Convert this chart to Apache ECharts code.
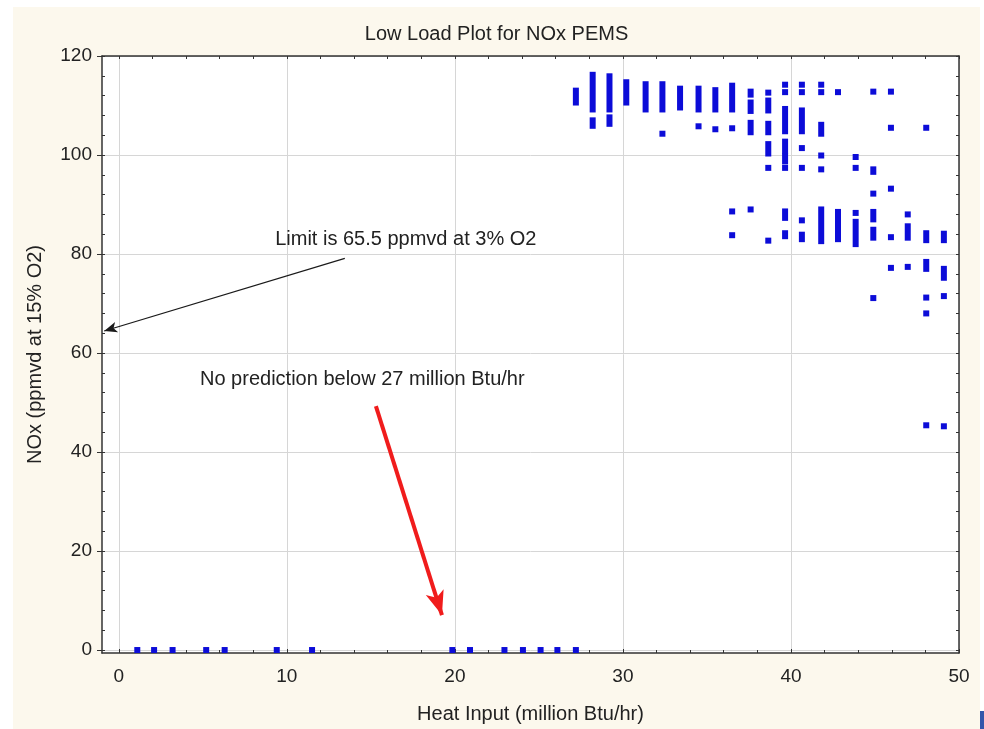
<!DOCTYPE html>
<html>
<head>
<meta charset="utf-8">
<script src="https://cdn.jsdelivr.net/npm/echarts@6/dist/echarts.min.js"></script>
<style>
    html, body { margin: 0; padding: 0; background: #fff; }
    #chart { position: absolute; left: 13px; top: 7px; width: 967px; height: 722px; background: #fcf8ed; }
    #tab { position: absolute; left: 980px; top: 711px; width: 4px; height: 18px; background: #3355aa; }
</style>
</head>
<body>
<div id="chart"></div>
<div id="tab"></div>
<script>
// runs of points: [heat input, lowest NOx, highest NOx]
var upperBand = [
    [27.2, 110.6, 113.0], [28.2, 109.2, 116.2], [28.2, 105.9, 107.0],
    [29.2, 109.2, 115.9], [29.2, 106.3, 107.6], [30.2, 110.6, 114.7],
    [31.35, 109.2, 114.3], [32.35, 109.2, 114.3], [32.35, 104.3, 104.3],
    [33.4, 109.6, 113.4], [34.5, 109.2, 113.4], [34.5, 105.8, 105.8],
    [35.5, 109.2, 113.1], [35.5, 105.2, 105.2], [36.5, 109.2, 114.0],
    [36.5, 105.4, 105.4], [37.6, 112.2, 112.8], [37.6, 108.9, 110.6],
    [37.6, 104.6, 106.5], [38.65, 112.6, 112.6], [38.65, 109.0, 111.0],
    [38.65, 104.6, 106.3], [38.65, 100.3, 102.2], [38.65, 97.4, 97.4],
    [39.65, 114.2, 114.2], [39.65, 112.7, 112.7], [39.65, 104.8, 109.3],
    [39.65, 100.9, 102.7], [39.65, 98.7, 99.8], [39.65, 97.4, 97.4],
    [40.65, 114.2, 114.2], [40.65, 112.7, 112.7], [40.65, 104.8, 109.0],
    [40.65, 101.4, 101.4], [40.65, 97.4, 97.4], [41.8, 114.2, 114.2],
    [41.8, 112.7, 112.7], [41.8, 104.3, 106.1], [41.8, 99.9, 99.9],
    [41.8, 97.1, 97.1], [42.8, 112.7, 112.7], [43.85, 99.6, 99.6],
    [43.85, 97.4, 97.4], [44.9, 112.8, 112.8], [44.9, 96.6, 97.1],
    [45.95, 112.8, 112.8], [45.95, 105.5, 105.5], [48.05, 105.5, 105.5]
];
var middleBand = [
    [44.9, 92.2, 92.2], [45.95, 93.2, 93.2], [36.5, 88.6, 88.6],
    [36.5, 83.8, 83.8], [37.6, 89.0, 89.0], [38.65, 82.7, 82.7],
    [39.65, 87.3, 88.6], [39.65, 83.6, 84.2], [40.65, 86.8, 86.8],
    [40.65, 83.0, 83.9], [41.8, 82.6, 89.0], [42.8, 83.0, 88.5],
    [43.85, 88.3, 88.3], [43.85, 82.0, 86.5], [44.9, 87.0, 88.5],
    [44.9, 83.3, 84.9], [45.95, 83.4, 83.4], [46.95, 88.0, 88.0],
    [46.95, 83.3, 85.6], [48.05, 82.8, 84.2], [49.1, 82.8, 84.1]
];
var lowerBand = [
    [45.95, 77.2, 77.2], [46.95, 77.4, 77.4], [48.05, 77.0, 78.4],
    [49.1, 75.2, 77.0], [44.9, 71.1, 71.1], [48.05, 71.2, 71.2],
    [49.1, 71.5, 71.5], [48.05, 68.0, 68.0], [48.05, 45.4, 45.4],
    [49.1, 45.2, 45.2]
];
// points with no prediction (NOx = 0)
var zeroX = [1.1, 2.1, 3.2, 5.2, 6.3, 9.4, 11.5, 19.85, 20.9, 22.95, 24.05, 25.1, 26.1, 27.2];

var xMajor = [0, 10, 20, 30, 40, 50];
var xMinor = [0, 2, 4, 6, 8, 10, 12, 14, 16, 18, 20, 22, 24, 26, 28, 30, 32, 34, 36, 38, 40, 42, 44, 46, 48, 50];
var yMajor = [0, 20, 40, 60, 80, 100, 120];
var yMinor = [0, 4, 8, 12, 16, 20, 24, 28, 32, 36, 40, 44, 48, 52, 56, 60, 64, 68, 72, 76, 80, 84, 88, 92, 96, 100, 104, 108, 112, 116, 120];

var notes = [
    {name: 'Limit is 65.5 ppmvd at 3% O2', coord: [17.08, 82.9]},
    {name: 'No prediction below 27 million Btu/hr', coord: [14.49, 54.75]}
];
var limitArrow = [[13.45, 79.13], [-0.87, 64.45]];
var cutoffArrow = [[15.30, 49.29], [19.23, 7.07]];

var blue = '#0c0cd8';
var ink = '#222';
var axisColor = '#333';

function renderRun(params, api) {
    var x = api.value(0);
    var top = api.coord([x, api.value(2)]);
    var bot = api.coord([x, api.value(1)]);
    return {
        type: 'rect',
        shape: {x: top[0] - 3, y: top[1] - 3, width: 6, height: bot[1] - top[1] + 6},
        style: {fill: blue}
    };
}

var myChart = echarts.init(document.getElementById('chart'));
var xBase = {type: 'value', min: -1, max: 50};
var yBase = {type: 'value', min: -0.6, max: 120};

var option = {
    animation: false,
    textStyle: {fontFamily: 'Liberation Sans, Arial, sans-serif'},
    title: {
        text: 'Low Load Plot for NOx PEMS',
        left: 'center',
        top: 17,
        padding: 0,
        textStyle: {fontSize: 20, fontWeight: 'normal', color: ink}
    },
    grid: {left: 89, top: 49, width: 857, height: 597, show: true, backgroundColor: '#fff', borderWidth: 0}
};

option.xAxis = [
    Object.assign({}, xBase, {
        position: 'bottom',
        name: 'Heat Input (million Btu/hr)',
        nameLocation: 'middle',
        nameGap: 51,
        nameTextStyle: {fontSize: 20, color: ink},
        axisLine: {show: true, onZero: false, lineStyle: {color: axisColor, width: 1.5}},
        axisTick: {show: true, inside: true, length: 4, customValues: xMajor, lineStyle: {color: axisColor}},
        axisLabel: {customValues: xMajor, fontSize: 19, color: ink, margin: 14},
        splitLine: {show: true, lineStyle: {color: '#d6d6d6', width: 1}}
    }),
    Object.assign({}, xBase, {
        position: 'bottom',
        axisLine: {show: false, onZero: false},
        axisTick: {show: true, inside: true, length: 3, customValues: xMinor, lineStyle: {color: axisColor}},
        axisLabel: {show: false},
        splitLine: {show: false}
    }),
    Object.assign({}, xBase, {
        position: 'top',
        axisLine: {show: true, onZero: false, lineStyle: {color: axisColor, width: 1.5}},
        axisTick: {show: true, inside: true, length: 3, customValues: xMinor, lineStyle: {color: axisColor}},
        axisLabel: {show: false},
        splitLine: {show: false}
    })
];

option.yAxis = [
    Object.assign({}, yBase, {
        position: 'left',
        name: 'NOx (ppmvd at 15% O2)',
        nameLocation: 'middle',
        nameGap: 57,
        nameTextStyle: {fontSize: 20, color: ink},
        axisLine: {show: true, onZero: false, lineStyle: {color: axisColor, width: 1.5}},
        axisTick: {show: true, inside: false, length: 5, customValues: yMajor, lineStyle: {color: axisColor}},
        axisLabel: {customValues: yMajor, fontSize: 19, color: ink, margin: 10},
        splitLine: {show: true, lineStyle: {color: '#d6d6d6', width: 1}}
    }),
    Object.assign({}, yBase, {
        position: 'left',
        axisLine: {show: false, onZero: false},
        axisTick: {show: true, inside: true, length: 3, customValues: yMinor, lineStyle: {color: axisColor}},
        axisLabel: {show: false},
        splitLine: {show: false}
    }),
    Object.assign({}, yBase, {
        position: 'right',
        axisLine: {show: true, onZero: false, lineStyle: {color: axisColor, width: 1.5}},
        axisTick: {show: true, inside: true, length: 3, customValues: yMinor, lineStyle: {color: axisColor}},
        axisLabel: {show: false},
        splitLine: {show: false}
    })
];

var runSeries = [upperBand, middleBand, lowerBand].map(function (band) {
    return {
        type: 'custom',
        renderItem: renderRun,
        data: band,
        encode: {x: 0, y: [1, 2]},
        clip: true,
        z: 3
    };
});

option.series = runSeries.concat([
    {
        type: 'scatter',
        symbol: 'rect',
        symbolSize: 6,
        itemStyle: {color: blue, opacity: 1},
        data: zeroX.map(function (x) { return [x, 0]; }),
        z: 3,
        markPoint: {
            silent: true,
            symbol: 'circle',
            symbolSize: 1,
            itemStyle: {color: 'rgba(0,0,0,0)'},
            label: {
                show: true,
                position: 'inside',
                fontSize: 20,
                color: ink,
                formatter: function (p) { return p.name; }
            },
            data: notes
        },
        markLine: {
            silent: true,
            symbol: ['none', 'arrow'],
            label: {show: false},
            lineStyle: {color: '#1a1a1a', width: 1.2, type: 'solid'},
            data: [[
                {coord: limitArrow[0], symbol: 'none'},
                {coord: limitArrow[1], symbol: 'arrow', symbolSize: [8, 13]}
            ]]
        }
    },
    {
        type: 'scatter',
        data: [],
        markLine: {
            silent: true,
            symbol: ['none', 'arrow'],
            label: {show: false},
            lineStyle: {color: '#f01c1c', width: 4, type: 'solid'},
            itemStyle: {color: '#f01c1c'},
            data: [[
                {coord: cutoffArrow[0], symbol: 'none'},
                {coord: cutoffArrow[1], symbol: 'arrow', symbolSize: [14, 24]}
            ]]
        }
    }
]);

myChart.setOption(option);
</script>
</body>
</html>
